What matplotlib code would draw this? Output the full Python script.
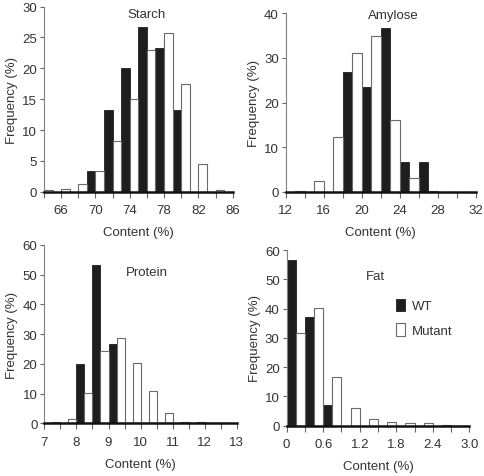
import numpy as np
import matplotlib.pyplot as plt

plt.rcParams['font.family'] = ['Liberation Sans', 'DejaVu Sans']
plt.rcParams['font.size'] = 9.5

# Data (frequency in %)
starch_bins = [64, 66, 68, 70, 72, 74, 76, 78, 80, 82, 84, 86]
starch_wt = [0, 0, 0, 3.3, 13.3, 20.0, 26.7, 23.3, 13.3, 0, 0, 0]
starch_mut = [0.3, 0.5, 1.2, 3.3, 8.3, 15.0, 23.0, 25.8, 17.5, 4.5, 0.3, 0]

amylose_bins = [13, 15, 17, 19, 21, 23, 25, 27, 29, 31]
amylose_wt = [0, 0, 0, 26.8, 23.5, 36.7, 6.7, 6.7, 0, 0]
amylose_mut = [0.2, 2.5, 12.2, 31.2, 35.0, 16.0, 3.0, 0.2, 0, 0]

protein_bins = [7.25, 7.75, 8.25, 8.75, 9.25, 9.75, 10.25, 10.75, 11.25, 11.75, 12.25, 12.75]
protein_wt = [0, 0, 20.0, 53.3, 26.7, 0, 0, 0, 0, 0, 0, 0]
protein_mut = [0.4, 1.6, 10.2, 24.2, 28.6, 20.3, 11.0, 3.4, 0.6, 0.4, 0, 0]

fat_bins = [0.15, 0.45, 0.75, 1.05, 1.35, 1.65, 1.95, 2.25, 2.55, 2.85]
fat_wt = [56.7, 37.0, 7.0, 0, 0, 0, 0, 0, 0, 0]
fat_mut = [31.8, 40.2, 16.8, 6.2, 2.3, 1.3, 0.8, 0.8, 0.4, 0]

text_col = '#333333'

def draw_panel(rect, bins, wt, mut, step, xlim, xlabeled, ylim, ystep, title, title_xy):
    """One histogram panel: WT bar on the left half, Mutant on the right half of each bin."""
    ax = fig.add_axes(rect)
    bins = np.array(bins)
    w = step / 2
    b1 = ax.bar(bins - w / 2, wt, width=w, color='#1e1e1e', edgecolor='#1e1e1e', lw=0.6, label='WT')
    b2 = ax.bar(bins + w / 2, mut, width=w, color='white', edgecolor='#6a6a6a', lw=0.8, label='Mutant')
    ax.set_xlim(*xlim)
    ax.set_ylim(*ylim)
    ax.set_yticks(np.arange(ylim[0], ylim[1] + 0.01, ystep))
    ax.set_xticks(np.arange(xlim[0], xlim[1] + step / 10, step), minor=True)
    ax.set_xticks(xlabeled[0])
    ax.set_xticklabels(xlabeled[1])
    for s in ['top', 'right']:
        ax.spines[s].set_visible(False)
    ax.spines['left'].set_color('#808080')
    ax.spines['left'].set_linewidth(0.8)
    ax.spines['bottom'].set_color('#111111')
    ax.spines['bottom'].set_linewidth(1.8)
    ax.tick_params(axis='x', which='both', length=4, width=0.8, color='#666666', labelcolor=text_col, pad=5)
    ax.tick_params(axis='y', length=3, width=0.8, color='#666666', labelcolor=text_col, pad=2)
    ax.set_xlabel('Content (%)', color=text_col, labelpad=7)
    ax.set_ylabel('Frequency (%)', color=text_col, labelpad=3)
    ax.text(title_xy[0], title_xy[1], title, transform=fig.transFigure, ha='center', va='center', color=text_col)
    return ax, b1, b2


fig = plt.figure(figsize=(4.85, 4.77), dpi=100)

draw_panel([0.0907, 0.596, 0.389, 0.388], starch_bins, starch_wt, starch_mut, 2, (64, 86),
           ([66, 70, 74, 78, 82, 86], ['66', '70', '74', '78', '82', '86']), (0, 30), 5,
           'Starch', (147 / 485, 1 - 15 / 477))

draw_panel([0.589, 0.596, 0.392, 0.374], amylose_bins, amylose_wt, amylose_mut, 2, (12, 32),
           ([12, 16, 20, 24, 28, 32], ['12', '16', '20', '24', '28', '32']), (0, 40), 10,
           'Amylose', (393 / 485, 1 - 16 / 477))

draw_panel([0.0914, 0.1105, 0.397, 0.374], protein_bins, protein_wt, protein_mut, 0.5, (7, 13),
           ([7, 8, 9, 10, 11, 12, 13], ['7', '8', '9', '10', '11', '12', '13']), (0, 60), 10,
           'Protein', (147 / 485, 1 - 273 / 477))

ax, b1, b2 = draw_panel([0.591, 0.1055, 0.377, 0.368], fat_bins, fat_wt, fat_mut, 0.3, (0, 3.0),
                        ([0, 0.6, 1.2, 1.8, 2.4, 3.0], ['0', '0.6', '1.2', '1.8', '2.4', '3.0']), (0, 60), 10,
                        'Fat', (375 / 485, 1 - 277 / 477))

leg = ax.legend(handles=[b1, b2], loc='upper left', bbox_to_anchor=(389 / 485, 1 - 293 / 477),
                bbox_transform=fig.transFigure, frameon=False, handlelength=0.75, handleheight=1.1,
                handletextpad=0.5, labelspacing=0.8, borderpad=0)
for t in leg.get_texts():
    t.set_color(text_col)

plt.savefig('out.png', dpi=100)
